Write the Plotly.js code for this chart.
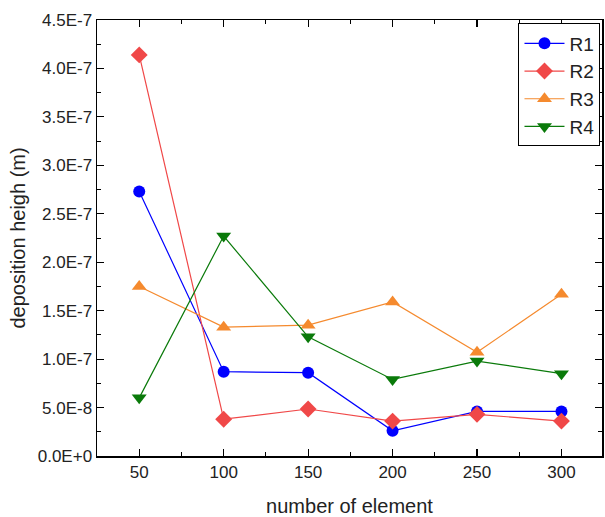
<!DOCTYPE html>
<html>
<head>
<meta charset="utf-8">
<script src="https://cdn.plot.ly/plotly-3.0.1.min.js"></script>
<style>
html,body{margin:0;padding:0;background:#fff;}
#chart{width:605px;height:517px;}
</style>
</head>
<body>
<div id="chart"></div>
<script>
// number of element (x categories)
const elements = [50, 100, 150, 200, 250, 300];
// deposition height (m) per series
const r1 = [2.73e-7, 0.87e-7, 0.86e-7, 0.26e-7, 0.46e-7, 0.46e-7];
const r2 = [4.14e-7, 0.38e-7, 0.485e-7, 0.36e-7, 0.43e-7, 0.36e-7];
const r3 = [1.75e-7, 1.33e-7, 1.35e-7, 1.59e-7, 1.07e-7, 1.67e-7];
const r4 = [0.60e-7, 2.27e-7, 1.23e-7, 0.79e-7, 0.98e-7, 0.85e-7];
const seriesNames = ['R1', 'R2', 'R3', 'R4'];
// y tick values and labels
const yTickVals = [0, 0.5e-7, 1.0e-7, 1.5e-7, 2.0e-7, 2.5e-7, 3.0e-7, 3.5e-7, 4.0e-7, 4.5e-7];
const yTickText = ['0.0E+0', '5.0E-8', '1.0E-7', '1.5E-7', '2.0E-7', '2.5E-7', '3.0E-7', '3.5E-7', '4.0E-7', '4.5E-7'];
const xTickVals = [50, 100, 150, 200, 250, 300];

const colors = ['#0000FF', '#F04848', '#F58A2E', '#0A7A0A'];
const symbols = ['circle', 'diamond', 'triangle-up', 'triangle-down'];
const sizes = [12, 13, 13, 13];
const data = [r1, r2, r3, r4].map((ys, i) => ({
  x: elements,
  y: ys,
  name: seriesNames[i],
  type: 'scatter',
  mode: 'lines+markers',
  line: {color: colors[i], width: 1.2},
  marker: {color: colors[i], symbol: symbols[i], size: sizes[i]}
}));

const font = 'Liberation Sans, Arial, sans-serif';
const axisCommon = {
  showline: true, linecolor: '#000', linewidth: 1.5, mirror: 'ticks',
  ticks: 'inside', ticklen: 7, tickwidth: 1.2, tickcolor: '#000',
  showgrid: false, zeroline: false,
  tickfont: {family: font, size: 17, color: '#222'}
};
const layout = {
  width: 605, height: 517,
  margin: {l: 97, r: 3, t: 20, b: 61},
  paper_bgcolor: '#fff', plot_bgcolor: '#fff',
  showlegend: true,
  xaxis: Object.assign({}, axisCommon, {
    range: [25, 324],
    tickvals: xTickVals,
    minor: {ticks: 'inside', ticklen: 4, tickwidth: 1, tickcolor: '#000', dtick: 25, tick0: 25},
    title: {text: 'number of element', font: {family: font, size: 20, color: '#222'}, standoff: 18}
  }),
  yaxis: Object.assign({}, axisCommon, {
    range: [0, 4.5e-7],
    tickvals: yTickVals,
    ticktext: yTickText,
    minor: {ticks: 'inside', ticklen: 4, tickwidth: 1, tickcolor: '#000', dtick: 0.5e-7, tick0: 0.25e-7},
    title: {text: 'deposition heigh (m)', font: {family: font, size: 20, color: '#222'}, standoff: 6}
  }),
  legend: {
    x: 0.997, y: 0.992, xanchor: 'right', yanchor: 'top',
    bgcolor: '#fff', bordercolor: '#000', borderwidth: 1,
    font: {family: font, size: 19, color: '#222'},
    itemwidth: 40, tracegroupgap: 0
  }
};
Plotly.newPlot('chart', data, layout, {displayModeBar: false, staticPlot: true});
</script>
</body>
</html>
